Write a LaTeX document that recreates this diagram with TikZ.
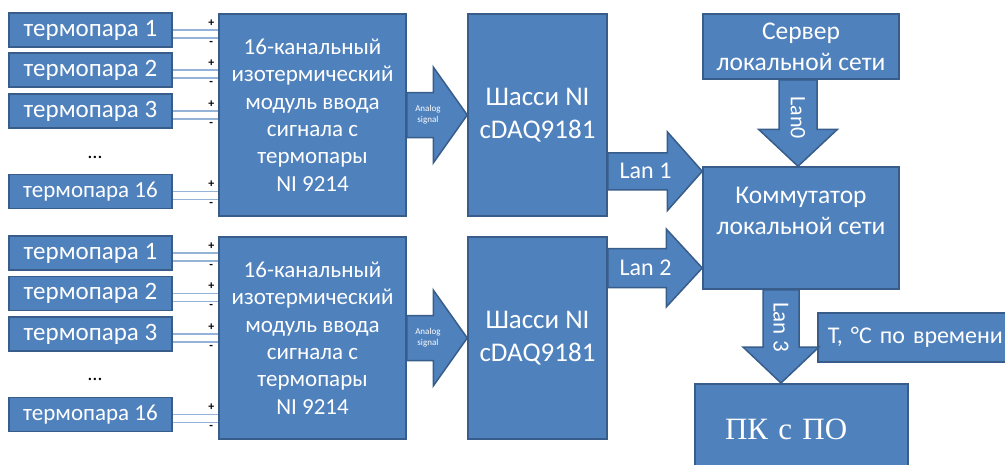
\documentclass[tikz,border=0pt]{standalone}
\usepackage{fontspec}
\setmainfont{Carlito}
\newfontfamily\pcfont{Liberation Serif}
\usetikzlibrary{calc}
\definecolor{myblue}{RGB}{79,129,189}
\definecolor{myedge}{RGB}{56,93,138}
\definecolor{mywire}{RGB}{149,179,215}
\tikzset{
  block/.style={rectangle, draw=myedge, fill=myblue, text=white,
    align=center, line width=1.5pt, inner sep=0pt},
  tbox/.style={block, minimum width=163pt, minimum height=34pt,
    font=\fontsize{25}{28}\selectfont},
  modbox/.style={block, minimum width=187pt, minimum height=202pt,
    font=\fontsize{23}{27.4}\selectfont},
  chbox/.style={block, minimum width=139pt, minimum height=202pt,
    font=\fontsize{27}{33}\selectfont},
  netbox/.style={block, minimum width=196pt,
    font=\fontsize{25.5}{31}\selectfont},
  barrow/.style={draw=myedge, fill=myblue, line width=1.5pt},
  wire/.style={mywire, line width=1.2pt},
  pole/.style={font=\fontsize{12}{12}\selectfont\bfseries, inner sep=0pt},
  lanlabel/.style={text=white, inner sep=0pt, font=\fontsize{24}{24}\selectfont},
  alabel/.style={text=white, align=center, inner sep=0pt,
    font=\fontsize{9}{11}\selectfont}
}
% fat arrow: start, tip, half shaft, half head, head length (in pt)
\newcommand{\fatarrow}[5]{%
  \coordinate (fa-h) at ($(#2)!#5pt!(#1)$);
  \draw[barrow] ($(#1)!#3pt!90:(#2)$) -- ($(fa-h)!#3pt!90:(#2)$)
    -- ($(fa-h)!#4pt!90:(#2)$) -- (#2) -- ($(fa-h)!#4pt!-90:(#2)$)
    -- ($(fa-h)!#3pt!-90:(#2)$) -- ($(#1)!#3pt!-90:(#2)$) -- cycle;
}
\begin{document}
\begin{tikzpicture}[x=1pt,y=-1pt]
  \useasboundingbox (0,0) rectangle (1005,464);
  \clip (0,0) rectangle (1005,464);

  % first module
  \node[tbox] (ta1) at (90.5,30) {термопара 1};
  \node[tbox] (ta2) at (90.5,70) {термопара 2};
  \node[tbox] (ta3) at (90.5,111) {термопара 3};
  \node[font=\fontsize{20}{20}\selectfont] (dota) at (95,157) {…};
  \node[tbox, font=\fontsize{23}{26}\selectfont] (ta16) at (90.5,191.5) {термопара 16};
  \node[modbox] (modA) at (312.5,115) {16-канальный\\изотермический\\модуль ввода\\сигнала с\\термопары\\NI 9214};
  \node[chbox] (chA) at (537.5,115) {Шасси NI\\cDAQ9181};

  % second module
  \node[tbox] (tb1) at (90.5,253) {термопара 1};
  \node[tbox] (tb2) at (90.5,293.5) {термопара 2};
  \node[tbox] (tb3) at (90.5,334) {термопара 3};
  \node[font=\fontsize{20}{20}\selectfont] (dotb) at (95,379) {…};
  \node[tbox, font=\fontsize{23}{26}\selectfont] (tb16) at (90.5,414.5) {термопара 16};
  \node[modbox] (modB) at (312.5,338) {16-канальный\\изотермический\\модуль ввода\\сигнала с\\термопары\\NI 9214};
  \node[chbox] (chB) at (537.5,338) {Шасси NI\\cDAQ9181};

  % network
  \node[netbox, minimum height=65pt] (srv) at (801,46.5) {Сервер\\локальной сети};
  \node[netbox, minimum height=122pt] (sw) at (801,228) {Коммутатор\\локальной сети\\[4pt]};
  \node[block, anchor=north, minimum width=213pt, minimum height=92pt,
    inner xsep=30pt, text width=153pt, align=left,
    font=\pcfont\fontsize{31}{34}\selectfont] (pc) at (801.5,383) {ПК с ПО};
  \node[block, anchor=west, minimum height=49pt, inner xsep=10pt,
    text width=220pt, align=left,
    font={\fontsize{24}{28}\selectfont\spaceskip=0.2em\relax}] (tout) at (817,337.5) {T, °C по времени};

  % thermocouple wires
  \foreach \t/\m in {ta1/modA, ta2/modA, ta3/modA, ta16/modA,
                     tb1/modB, tb2/modB, tb3/modB, tb16/modB} {
    \draw[wire] (\t.east) -- (\t.east -| \m.west);
    \draw[wire] ($(\t.east)+(0,8)$) -- ($(\t.east -| \m.west)+(0,8)$);
    \node[pole] (p\t) at ($(\t.east -| \m.west)+(-7,-7)$) {+};
    \node[pole] (n\t) at ($(\t.east -| \m.west)+(-7,13)$) {-};
  }

  % analog signal
  \fatarrow{modA.east}{chA.west}{22.5}{48}{34}
  \node[alabel] (anA) at ($(modA.east)!0.35!(chA.west)$) {Analog\\signal};
  \fatarrow{modB.east}{chB.west}{22.5}{48}{34}
  \node[alabel] (anB) at ($(modB.east)!0.35!(chB.west)$) {Analog\\signal};

  % lan links
  \coordinate (l1) at ($(sw.north west)+(0,5)$);
  \coordinate (l1a) at (chA.east |- l1);
  \fatarrow{l1a}{l1}{18.5}{39.5}{35}
  \node[lanlabel] (lan1) at ($(l1a)!0.4!(l1)$) {Lan 1};

  \coordinate (l2) at ($(sw.west)+(0,40)$);
  \coordinate (l2a) at (chB.east |- l2);
  \fatarrow{l2a}{l2}{19.5}{39}{36}
  \node[lanlabel] (lan2) at ($(l2a)!0.4!(l2)$) {Lan 2};

  \coordinate (l0a) at ($(srv.south)+(-3,0)$);
  \coordinate (l0) at (l0a |- sw.north);
  \fatarrow{l0a}{l0}{19}{39.5}{37}
  \node[lanlabel, rotate=-90, font=\fontsize{22}{22}\selectfont] (lan0) at ($(l0a)!0.44!(l0)$) {Lan0};

  \coordinate (l3a) at ($(sw.south)+(-20,0)$);
  \coordinate (l3) at (l3a |- pc.north);
  \fatarrow{l3a}{l3}{18}{38}{36}
  \node[lanlabel, rotate=-90, font=\fontsize{23}{23}\selectfont] (lan3) at ($(l3a)!0.4!(l3)$) {Lan 3};
\end{tikzpicture}
\end{document}
